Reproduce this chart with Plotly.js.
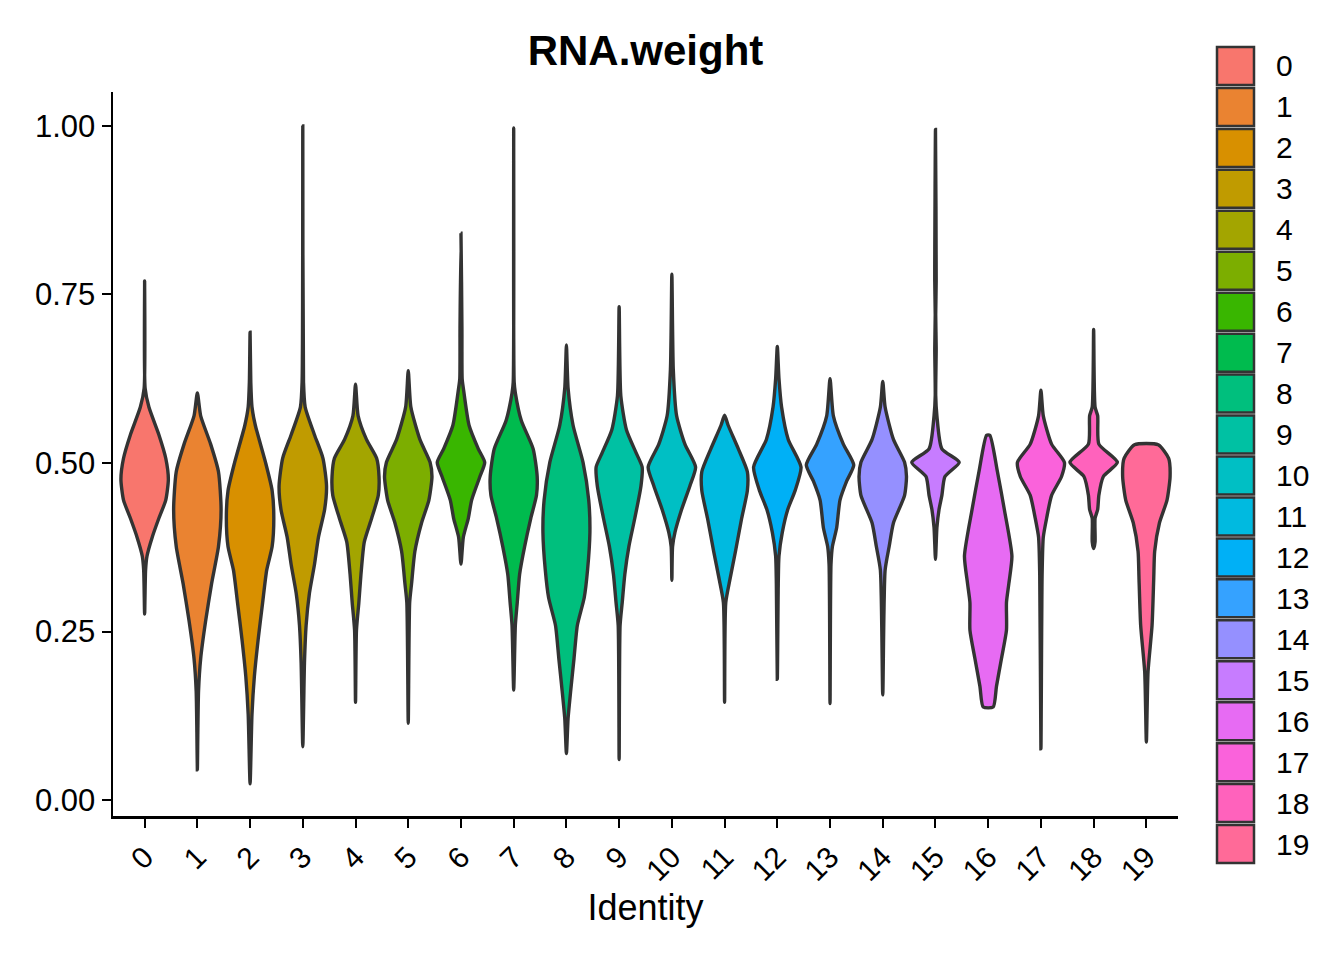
<!DOCTYPE html>
<html>
<head>
<meta charset="utf-8">
<script src="https://cdn.plot.ly/plotly-3.0.1.min.js"></script>
<style>html,body{margin:0;padding:0;background:#fff;}#chart{width:1344px;height:960px;}</style>
</head>
<body>
<div id="chart"></div>
<script>
// ---- data ----
const clusters = ["0","1","2","3","4","5","6","7","8","9","10","11","12","13","14","15","16","17","18","19"];
const yTickVals = [0, 0.25, 0.5, 0.75, 1.0];
const yTickLabels = ["0.00", "0.25", "0.50", "0.75", "1.00"];

// Violin density profiles: RNA.weight level (y) and relative half-width (w, 1 = widest)
const c0_y = [0.770,0.611,0.583,0.542,0.507,0.476,0.445,0.418,0.390,0.362,0.341,0.276];
const c0_w = [0,0.02,0.18,0.60,0.89,1.00,0.89,0.60,0.32,0.10,0.04,0];
const c1_y = [0.604,0.570,0.528,0.487,0.431,0.376,0.321,0.266,0.210,0.162,0.100,0.045];
const c1_w = [0,0.14,0.56,0.89,1.00,0.89,0.60,0.35,0.14,0.05,0.02,0];
const c2_y = [0.694,0.620,0.583,0.556,0.501,0.459,0.418,0.376,0.341,0.293,0.238,0.183,0.127,0.024];
const c2_w = [0,0.03,0.08,0.22,0.65,0.93,1.00,0.93,0.70,0.53,0.34,0.18,0.08,0];
const c3_y = [1.000,0.620,0.583,0.542,0.507,0.466,0.431,0.390,0.349,0.307,0.259,0.203,0.079];
const c3_w = [0,0.03,0.10,0.49,0.85,1.00,0.92,0.66,0.49,0.28,0.14,0.07,0];
const c4_y = [0.617,0.570,0.535,0.507,0.480,0.452,0.418,0.383,0.335,0.293,0.252,0.145];
const c4_w = [0,0.11,0.46,0.89,0.99,0.96,0.68,0.37,0.23,0.14,0.04,0];
const c5_y = [0.637,0.583,0.535,0.501,0.480,0.445,0.411,0.369,0.321,0.293,0.114];
const c5_w = [0,0.11,0.49,0.92,1.00,0.87,0.56,0.28,0.14,0.06,0];
const c6_y = [0.841,0.700,0.625,0.611,0.556,0.521,0.501,0.480,0.445,0.418,0.390,0.350];
const c6_w = [0,0.04,0.05,0.10,0.34,0.73,1.00,0.80,0.45,0.31,0.10,0];
const c7_y = [0.997,0.620,0.604,0.563,0.521,0.480,0.452,0.418,0.376,0.335,0.293,0.259,0.163];
const c7_w = [0,0.02,0.07,0.32,0.82,0.99,0.96,0.72,0.46,0.25,0.15,0.07,0];
const c8_y = [0.675,0.611,0.556,0.501,0.445,0.397,0.341,0.300,0.259,0.210,0.162,0.121,0.069];
const c8_w = [0,0.07,0.28,0.70,0.94,0.99,0.89,0.75,0.46,0.32,0.18,0.07,0];
const c9_y = [0.732,0.600,0.549,0.514,0.494,0.466,0.418,0.376,0.335,0.293,0.259,0.060];
const c9_w = [0,0.07,0.31,0.73,0.97,0.92,0.66,0.41,0.24,0.13,0.04,0];
const c10_y = [0.780,0.639,0.570,0.528,0.494,0.466,0.431,0.397,0.376,0.326];
const c10_w = [0,0.06,0.20,0.55,1.00,0.76,0.41,0.13,0.03,0];
const c11_y = [0.571,0.556,0.521,0.487,0.459,0.418,0.369,0.328,0.293,0.145];
const c11_w = [0,0.15,0.58,0.96,0.96,0.72,0.46,0.23,0.05,0];
const c12_y = [0.673,0.625,0.583,0.535,0.494,0.459,0.431,0.397,0.362,0.321,0.179];
const c12_w = [0,0.07,0.18,0.46,1.00,0.75,0.44,0.21,0.07,0.04,0];
const c13_y = [0.625,0.570,0.528,0.497,0.473,0.445,0.404,0.376,0.349,0.143];
const c13_w = [0,0.14,0.56,1.00,0.70,0.42,0.28,0.10,0.04,0];
const c14_y = [0.621,0.583,0.535,0.501,0.480,0.452,0.411,0.376,0.341,0.156];
const c14_w = [0,0.10,0.45,0.92,1.00,0.92,0.45,0.27,0.10,0];
const c15_y = [0.995,0.770,0.720,0.670,0.600,0.570,0.521,0.501,0.480,0.452,0.431,0.404,0.357];
const c15_w = [0,0.03,0.01,0.03,0.01,0.06,0.27,1.00,0.40,0.27,0.15,0.06,0];
const c16_y = [0.541,0.487,0.431,0.362,0.321,0.293,0.252,0.210,0.169,0.138];
const c16_w = [0.07,0.39,0.68,1.00,0.87,0.77,0.77,0.56,0.35,0.21];
const c17_y = [0.608,0.570,0.528,0.501,0.480,0.452,0.418,0.390,0.335,0.076];
const c17_w = [0,0.10,0.45,0.99,0.87,0.45,0.24,0.10,0.05,0];
const c18_y = [0.698,0.583,0.570,0.528,0.501,0.480,0.452,0.431,0.418,0.383,0.373];
const c18_w = [0,0.06,0.17,0.22,1.00,0.41,0.22,0.17,0.06,0.06,0];
const c19_y = [0.527,0.507,0.480,0.445,0.411,0.369,0.328,0.259,0.190,0.086];
const c19_w = [0.50,0.94,1.00,0.87,0.55,0.35,0.31,0.24,0.07,0];

const profY = [c0_y,c1_y,c2_y,c3_y,c4_y,c5_y,c6_y,c7_y,c8_y,c9_y,c10_y,c11_y,c12_y,c13_y,c14_y,c15_y,c16_y,c17_y,c18_y,c19_y];
const profW = [c0_w,c1_w,c2_w,c3_w,c4_w,c5_w,c6_w,c7_w,c8_w,c9_w,c10_w,c11_w,c12_w,c13_w,c14_w,c15_w,c16_w,c17_w,c18_w,c19_w];

// ---- styles ----
const palette = ["#F8766D","#EA8331","#D89000","#C09B00","#A3A500","#7CAE00","#39B600","#00BB4E","#00BF7D","#00C1A3",
                 "#00BFC4","#00BAE0","#00B0F6","#35A2FF","#9590FF","#C77CFF","#E76BF3","#FA62DB","#FF62BC","#FF6A98"];
const FONT = "Liberation Sans, Arial, Helvetica, sans-serif";
const maxHalf = 0.45;

const traces = clusters.map((c, i) => {
  const ys = profY[i], ws = profW[i], n = ys.length;
  const xs = [], yy = [];
  for (let k = 0; k < n; k++) { xs.push(i + maxHalf * ws[k]); yy.push(ys[k]); }
  for (let k = n - 1; k >= 0; k--) {
    if ((k === n - 1 || k === 0) && ws[k] === 0) continue;
    xs.push(i - maxHalf * ws[k]); yy.push(ys[k]);
  }
  xs.push(xs[0]); yy.push(yy[0]);
  return {
    type: 'scatter', mode: 'lines', x: xs, y: yy, name: c,
    fill: 'toself', fillcolor: palette[i],
    line: {color: '#333333', width: 3.4, shape: 'spline', smoothing: 0.6},
    hoverinfo: 'name', showlegend: false
  };
});

// custom legend (ggplot style keys)
const L = 113, R = 1178, T = 92, B = 816;
const px2x = p => (p - L) / (R - L);
const px2y = p => (B - p) / (B - T);
const shapes = [], annotations = [];
clusters.forEach((c, i) => {
  const cy = 66 + 40.95 * i;
  shapes.push({type: 'rect', xref: 'paper', yref: 'paper',
    x0: px2x(1217), x1: px2x(1254), y0: px2y(cy + 19), y1: px2y(cy - 19),
    fillcolor: palette[i], line: {color: '#333333', width: 2.5}});
  annotations.push({xref: 'paper', yref: 'paper', x: px2x(1274), y: px2y(cy),
    xanchor: 'left', yanchor: 'middle', text: c, showarrow: false,
    font: {family: FONT, size: 30, color: '#000'}});
});

const layout = {
  width: 1344, height: 960,
  paper_bgcolor: '#fff', plot_bgcolor: '#fff',
  margin: {l: L, r: 1344 - R, t: T, b: 960 - B},
  font: {family: FONT, color: '#000'},
  title: {text: 'RNA.weight', font: {family: FONT, size: 42, weight: 700, color: '#000'},
          x: 0.5, xref: 'paper', xanchor: 'center', y: 1 - 50 / 960, yref: 'container', yanchor: 'middle'},
  xaxis: {range: [-0.6, 19.6], tickmode: 'array', tickvals: clusters.map((c, i) => i), ticktext: clusters,
          tickangle: -45, tickfont: {size: 30, color: '#000'}, ticks: 'outside', ticklen: 9, tickwidth: 2, tickcolor: '#000',
          showline: true, linecolor: '#000', linewidth: 2.5, showgrid: false, zeroline: false,
          title: {text: 'Identity', font: {size: 36, color: '#000'}, standoff: 6}},
  yaxis: {range: [-0.0237, 1.0504], tickmode: 'array', tickvals: yTickVals, ticktext: yTickLabels,
          tickfont: {size: 31, color: '#000'}, ticks: 'outside', ticklen: 9, tickwidth: 2, tickcolor: '#000',
          showline: true, linecolor: '#000', linewidth: 2.5, showgrid: false, zeroline: false},
  shapes: shapes, annotations: annotations, showlegend: false
};

Plotly.newPlot('chart', traces, layout, {displayModeBar: false, staticPlot: true});
</script>
</body>
</html>
